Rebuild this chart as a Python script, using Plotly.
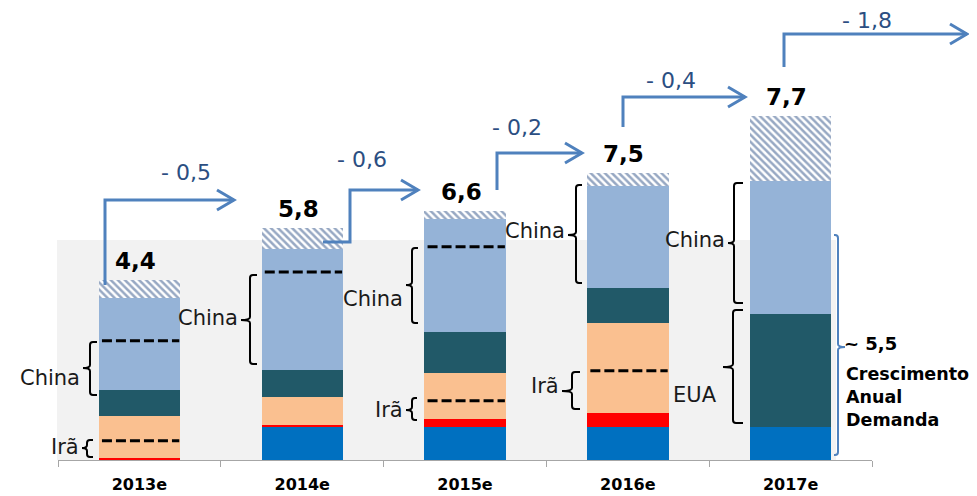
import plotly.graph_objects as go

# ---------------- data ----------------
categories = ["2013e", "2014e", "2015e", "2016e", "2017e"]
blue = [0.00, 0.82, 0.82, 0.82, 0.82]
red = [0.05, 0.05, 0.20, 0.35, 0.00]
orange = [1.05, 0.70, 1.15, 2.25, 0.00]
teal = [0.65, 0.68, 1.02, 0.88, 2.82]
light = [2.30, 3.02, 2.83, 2.55, 3.33]
hatch = [0.45, 0.53, 0.20, 0.33, 1.62]
total_labels = ["4,4", "5,8", "6,6", "7,5", "7,7"]
delta_labels = ["- 0,5", "- 0,6", "- 0,2", "- 0,4", "- 1,8"]
china_levels = [2.98, 4.70, 5.33, None, None]
iran_levels = [0.48, None, 1.48, 2.23, None]
demand_growth = 5.5
demand_label = "~ 5,5"
demand_text = ["Crescimento", "Anual", "Demanda"]

# ---------------- layout helpers ----------------
# page body has an 8px margin, so the figure is offset by 8px in the window
OFF = 8
W, H = 977 - OFF, 496 - OFF
X_LEFT, X_RIGHT, Y_BOTTOM = 58, 872, 460          # plot area in window pixels
ML, MR = X_LEFT - OFF, W - (X_RIGHT - OFF)
MT, MB = 0, H - (Y_BOTTOM - OFF)
PW, PH = W - ML - MR, H - MT - MB
YMAX = PH / 40.0
FONT = "DejaVu Sans"


def px(x):
    return (x - X_LEFT) / PW


def py(y):
    return (Y_BOTTOM - y) / PH


fig = go.Figure()
seg_specs = [
    (blue, "#0070C0"),
    (red, "#FF0000"),
    (orange, "#FAC090"),
    (teal, "#215968"),
    (light, "#95B3D7"),
]
for vals, col in seg_specs:
    fig.add_trace(go.Bar(x=categories, y=vals, marker=dict(color=col, line=dict(width=0)),
                         hoverinfo="skip"))
fig.add_trace(go.Bar(x=categories, y=hatch,
                     marker=dict(color="white", line=dict(width=0),
                                 pattern=dict(shape="\\", fgcolor="#2F5287", bgcolor="white",
                                              size=5, solidity=0.5)),
                     hoverinfo="skip"))

shapes = []
# grey band = demand growth
shapes.append(dict(type="rect", xref="paper", yref="y", x0=px(57), x1=px(836), y0=0,
                   y1=demand_growth, fillcolor="#F2F2F2", line=dict(width=0), layer="below"))

# dashed reference levels
for levels in (china_levels, iran_levels):
    for i, lv in enumerate(levels):
        if lv is None:
            continue
        shapes.append(dict(type="line", xref="paper", yref="y", x0=(i + 0.27) / 5,
                           x1=(i + 0.745) / 5, y0=lv, y1=lv,
                           line=dict(color="black", width=3, dash="10px,4px")))


def brace_path(xt, xv, xe, yt, yb, ym, r=3):
    s = 1 if xe > xv else -1
    pts = [
        ("M", (xe, yt)),
        ("L", (xv + s * r, yt)),
        ("Q", (xv, yt), (xv, yt + r)),
        ("L", (xv, ym - r)),
        ("Q", (xv, ym), (xt, ym)),
        ("Q", (xv, ym), (xv, ym + r)),
        ("L", (xv, yb - r)),
        ("Q", (xv, yb), (xv + s * r, yb)),
        ("L", (xe, yb)),
    ]
    out = []
    for item in pts:
        cmd = item[0]
        coords = " ".join(f"{px(a):.5f},{py(b):.5f}" for a, b in item[1:])
        out.append(f"{cmd} {coords}")
    return " ".join(out)


# label, xtip, xvert, xend, ytop, ybot, ytip, label_y
braces = [
    ("Irã", 82, 87, 93, 440, 457, 448, 447),
    ("China", 83, 90, 97, 342, 395, 368, 378),
    ("China", 241, 250, 257, 275, 364, 320, 318),
    ("China", 406, 412, 418, 248, 323, 285, 299),
    ("Irã", 406, 412, 417, 398, 420, 410, 410),
    ("China", 568, 576, 582, 185, 283, 235, 231),
    ("Irã", 562, 572, 580, 372, 409, 391, 386),
    ("China", 728, 734, 743, 183, 303, 243, 240),
    ("EUA", 723, 733, 743, 310, 423, 367, 395),
]
annotations = []
for lab, xt, xv, xe, yt, yb, ym, ly in braces:
    shapes.append(dict(type="path", xref="paper", yref="paper",
                       path=brace_path(xt, xv, xe, yt, yb, ym),
                       line=dict(color="black", width=2)))
    lx = xt - 1 if lab != "EUA" else 719
    annotations.append(dict(text=lab, xref="paper", yref="paper", x=px(lx), y=py(ly),
                            xanchor="right", yanchor="middle", showarrow=False,
                            font=dict(family=FONT, size=21, color="#1A1A1A")))

# blue bracket for demand growth
shapes.append(dict(type="path", xref="paper", yref="paper",
                   path=brace_path(845, 838, 834, 235, 455, 347),
                   line=dict(color="#4F81BD", width=2)))
annotations.append(dict(text=f"<b>{demand_label}</b>", xref="paper", yref="paper",
                        x=px(842), y=py(343), xanchor="left", yanchor="middle",
                        showarrow=False, font=dict(family=FONT, size=18, color="black")))
annotations.append(dict(text="<b>" + "<br>".join(demand_text) + "</b>", xref="paper",
                        yref="paper", x=px(844), y=py(397), xanchor="left", yanchor="middle",
                        align="left", showarrow=False,
                        font=dict(family=FONT, size=17.5, color="black")))

# elbow arrows: points (window pixels) then head tip
arrows = [
    ([(105, 285), (105, 200), (234, 200)], (186, 172)),
    ([(323, 242), (350, 242), (350, 190), (418, 190)], (362, 160)),
    ([(497, 190), (497, 153), (582, 153)], (517, 127)),
    ([(623, 127), (623, 97), (745, 97)], (671, 80)),
    ([(784, 67), (784, 34), (967, 34)], (867, 20)),
]
ACOL = "#4F81BD"
for (pts, (lx, ly)), dl in zip(arrows, delta_labels):
    p = "M " + " L ".join(f"{px(a):.5f},{py(b):.5f}" for a, b in pts)
    shapes.append(dict(type="path", xref="paper", yref="paper", path=p,
                       line=dict(color=ACOL, width=3)))
    tx, ty = pts[-1]
    head = (f"M {px(tx - 17):.5f},{py(ty - 10):.5f} L {px(tx):.5f},{py(ty):.5f} "
            f"L {px(tx - 17):.5f},{py(ty + 10):.5f}")
    shapes.append(dict(type="path", xref="paper", yref="paper", path=head,
                       line=dict(color=ACOL, width=3)))
    annotations.append(dict(text=dl, xref="paper", yref="paper", x=px(lx), y=py(ly),
                            xanchor="center", yanchor="middle", showarrow=False,
                            font=dict(family=FONT, size=22, color="#2B4E82")))

# total labels above bars
totals = [sum(v) for v in zip(blue, red, orange, teal, light, hatch)]
for cat, tot, lab in zip(categories, totals, total_labels):
    annotations.append(dict(text=f"<b>{lab}</b>", xref="x", yref="y", x=cat, y=tot,
                            xanchor="center", yanchor="bottom", yshift=4, xshift=-4,
                            showarrow=False, font=dict(family=FONT, size=23, color="black")))

fig.update_layout(
    width=W, height=H,
    margin=dict(l=ML, r=MR, t=MT, b=MB, autoexpand=False),
    barmode="stack", bargap=0.5, showlegend=False,
    plot_bgcolor="white", paper_bgcolor="white",
    xaxis=dict(type="category", tickson="boundaries", ticks="outside", ticklen=6,
               tickcolor="#A6A6A6", showline=True, linecolor="#A6A6A6", linewidth=1,
               showgrid=False, automargin=False, ticklabelstandoff=10,
               tickfont=dict(family=FONT, size=16, color="black", weight="bold")),
    yaxis=dict(range=[0, YMAX], visible=False, showgrid=False, zeroline=False),
    shapes=shapes, annotations=annotations,
)

fig.write_html("out.html")
